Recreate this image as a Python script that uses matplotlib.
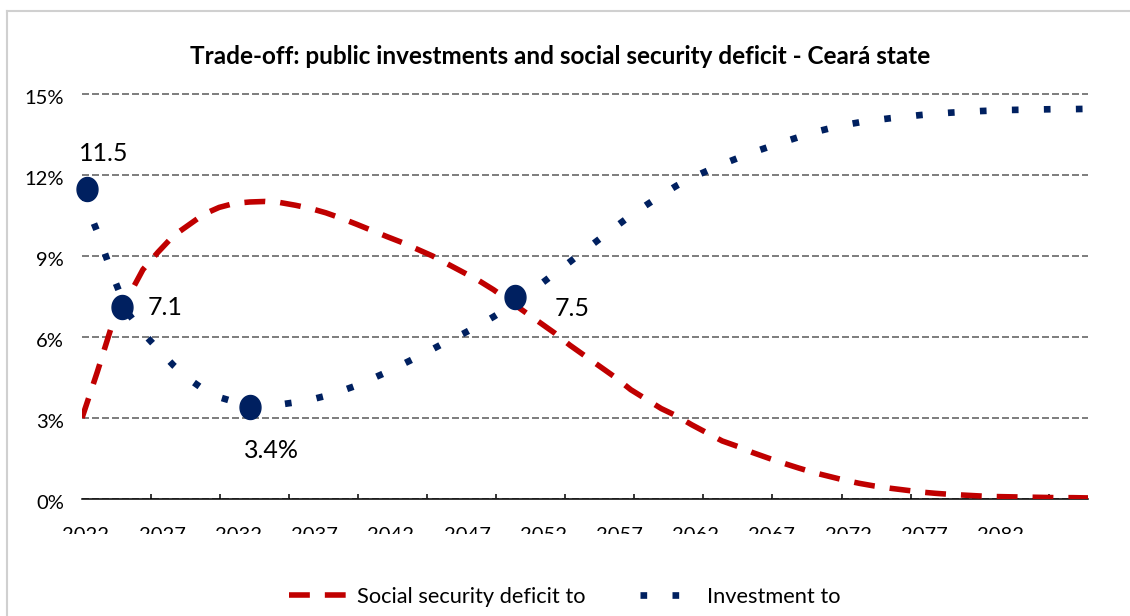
import numpy as np
import matplotlib
matplotlib.use('Agg')
import matplotlib.pyplot as plt
from matplotlib.path import Path
from matplotlib.lines import Line2D
from matplotlib.patches import Rectangle
import matplotlib.transforms as mtransforms
import matplotlib.ticker as mtick

plt.rcParams['font.family'] = ['Lato', 'DejaVu Sans']

# Projection, % of revenue
anos = list(range(2022, 2089))
deficit = [3.0, 4.7, 6.5, 7.45, 8.5, 9.15, 9.75, 10.15, 10.55, 10.8, 10.95, 11.0,
           11.02, 10.98, 10.88, 10.76, 10.6, 10.4, 10.18, 9.95, 9.72, 9.5, 9.25,
           9.0, 8.7, 8.4, 8.1, 7.75, 7.35, 6.95, 6.55, 6.15, 5.7, 5.3, 4.9, 4.5,
           4.05, 3.7, 3.35, 3.08, 2.75, 2.45, 2.15, 1.95, 1.72, 1.52, 1.33, 1.15,
           0.98, 0.84, 0.7, 0.58, 0.48, 0.4, 0.33, 0.26, 0.21, 0.17, 0.14, 0.11,
           0.09, 0.08, 0.07, 0.06, 0.05, 0.05, 0.04]
investimento = [11.3, 9.9, 8.3, 6.9, 6.15, 5.55, 4.95, 4.45, 4.05, 3.77, 3.6, 3.5,
                3.47, 3.5, 3.58, 3.68, 3.82, 4.0, 4.2, 4.45, 4.7, 4.98, 5.26, 5.55,
                5.85, 6.12, 6.42, 6.75, 7.1, 7.5, 7.92, 8.35, 8.78, 9.22, 9.65,
                10.08, 10.5, 10.88, 11.25, 11.6, 11.9, 12.15, 12.4, 12.62, 12.84,
                13.03, 13.22, 13.4, 13.58, 13.72, 13.85, 13.95, 14.03, 14.1, 14.16,
                14.22, 14.27, 14.31, 14.34, 14.37, 14.39, 14.41, 14.42, 14.43,
                14.44, 14.44, 14.45]

# destaques sobre a curva de investimento
destaque_anos = [2022.3, 2024.6, 2033.0, 2050.4]
destaque_vals = [11.5, 7.1, 3.4, 7.5]
destaque_txt = ['11.5', '7.1', '3.4%', '7.5']
destaque_off = [(17, 35), (43, 0), (22, -43), (57, -12)]

anos_rotulo = list(range(2022, 2083, 5))
y_ticks = [0, 3, 6, 9, 12, 15]

vermelho = '#C00000'
azul = '#002060'

fig = plt.figure(figsize=(11.3, 6.16), dpi=100)
ax = fig.add_axes([82 / 1130, 1 - 499 / 616, 1006 / 1130, (499 - 80.5) / 616])

ax.plot(anos, deficit, color=vermelho, lw=4, dashes=(3.75, 2.7),
        dash_capstyle='butt', label='Social security deficit to', zorder=3)
ax.plot(anos, investimento, color=azul, lw=4.8, dashes=(1, 3.8),
        dash_capstyle='butt', label='Investment to', zorder=3)

# marcador elíptico
t = np.linspace(0, 2 * np.pi, 80)
elipse = Path(np.column_stack([0.87 * np.cos(t), np.sin(t)]), closed=True)
ax.plot(destaque_anos, destaque_vals, ls='none', marker=elipse, ms=17.3,
        color=azul, mec=azul, clip_on=False, zorder=4)
for xa, ya, txt, off in zip(destaque_anos, destaque_vals, destaque_txt, destaque_off):
    ax.annotate(txt, xy=(xa, ya), xytext=off, textcoords='offset pixels',
                ha='center', va='center', fontsize=18, color='black')

ax.set_xlim(2022, 2088)
ax.set_ylim(0, 15.5)

ax.set_yticks(y_ticks)
ax.yaxis.set_major_formatter(mtick.FuncFormatter(lambda v, _: f'{v:.0f}%'))
ax.tick_params(axis='y', length=0, pad=13, labelsize=14.5)
ax.yaxis.grid(True, color='#808080', lw=1.44, dashes=(3.5, 1.5))
ax.set_axisbelow(True)

ax.set_xticks(anos_rotulo)
ax.set_xticklabels([str(a) for a in anos_rotulo])
ax.tick_params(axis='x', which='major', length=0, pad=20, labelsize=14.5)
ax.set_xticks(np.arange(2022, 2088.1, 4.53), minor=True)
ax.tick_params(axis='x', which='minor', direction='in', length=3.6, width=1.1,
               color='black')

off_y = mtransforms.ScaledTranslation(0, -3 / 100, fig.dpi_scale_trans)
for lbl in ax.get_yticklabels():
    lbl.set_transform(lbl.get_transform() + off_y)
off_x = mtransforms.ScaledTranslation(4 / 100, 0, fig.dpi_scale_trans)
for lbl in ax.get_xticklabels():
    lbl.set_transform(lbl.get_transform() + off_x)

for lado in ['top', 'right', 'left']:
    ax.spines[lado].set_visible(False)
ax.spines['bottom'].set_color('black')
ax.spines['bottom'].set_linewidth(1.1)

fig.text(560 / 1130, 1 - 56 / 616, 'Trade-off: public investments and social security deficit - Ceará state',
         ha='center', va='center', fontsize=17.5, fontweight='bold')

fig.legend(loc='center', bbox_to_anchor=(0.5, 1 - 597 / 616), ncol=2, frameon=False,
           fontsize=15.7, handlelength=2.7, handletextpad=0.41, columnspacing=2.48)

# faixa branca que corta a parte de baixo dos anos
fig.add_artist(Rectangle((12 / 1130, 1 - 560 / 616), 1, 26 / 616, transform=fig.transFigure,
                         facecolor='white', edgecolor='none', zorder=5))

# borda da área do gráfico
fig.add_artist(Line2D([7 / 1130, 7 / 1130], [0, 1 - 11 / 616], transform=fig.transFigure,
                      color='#D0D0D0', lw=1.5, zorder=6))
fig.add_artist(Line2D([7 / 1130, 1], [1 - 11 / 616, 1 - 11 / 616], transform=fig.transFigure,
                      color='#D0D0D0', lw=1.5, zorder=6))

fig.savefig('out.png', dpi=100)
